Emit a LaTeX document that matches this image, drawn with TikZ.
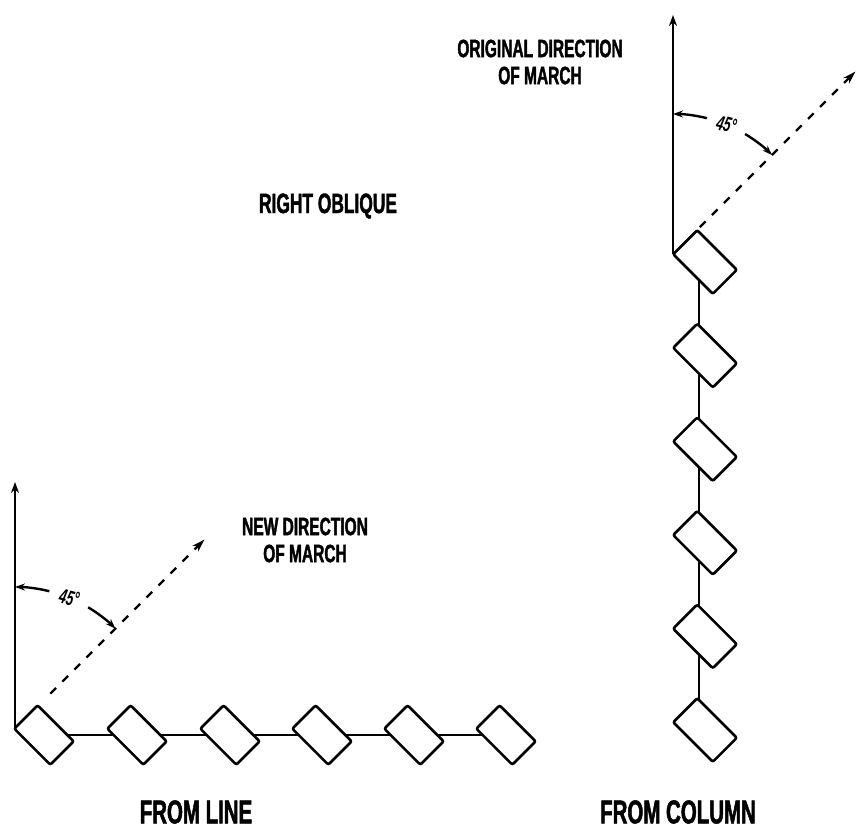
\documentclass[tikz,border=0pt]{standalone}
\usepackage{fontspec}
\setmainfont{Liberation Sans}[FakeStretch=0.62,BoldFeatures={FakeBold=1.5}]
\usetikzlibrary{arrows.meta,positioning,calc,backgrounds}

\begin{document}
\begin{tikzpicture}[x=1pt,y=-1pt,
  unit/.style={draw=black,fill=white,line width=2.6pt,rounded corners=2pt,
    rotate=-45,inner sep=0pt},
  lunit/.style={unit,minimum width=51pt,minimum height=33pt},
  cunit/.style={unit,minimum width=56pt,minimum height=34pt},
  link/.style={line width=2.2pt},
  axis/.style={line width=2.4pt,-{Stealth[length=11pt,width=8pt]}},
  march/.style={line width=2.3pt,dash pattern=on 8pt off 9pt,
    -{Stealth[length=13pt,width=8pt]}},
  angarr/.style={line width=2.4pt,-{Stealth[length=10pt,width=7pt]}},
  lbl/.style={font=\bfseries\fontsize{25}{27}\selectfont,align=center},
  ttl/.style={font=\bfseries\fontsize{28}{30}\selectfont},
  sub/.style={font=\bfseries\fontsize{33}{35}\selectfont},
  deg/.style={font=\bfseries\itshape\fontsize{21}{21}\selectfont,rotate=-15}
]
  \useasboundingbox (0,0) rectangle (859,831);

  % From line
  \coordinate (lbase) at (15,729);
  \coordinate (ltop) at (15,482);
  \foreach \i/\x in {1/44,2/137,3/230,4/322,5/414,6/506}
    \node[lunit] (l\i) at (\x,735) {};
  \begin{pgfonlayer}{background}
    \foreach \i/\j in {1/2,2/3,3/4,4/5,5/6}
      \draw[link] (l\i.center) -- (l\j.center);
  \end{pgfonlayer}
  \draw[axis] (lbase) -- (ltop);
  \draw[march] ($(lbase)+(-45:50)$) -- ($(lbase)+(-45:268)$);
  \draw[angarr] ($(lbase)+(-76:142)$) arc[start angle=-76,end angle=-90,radius=142];
  \draw[angarr] ($(lbase)+(-59:142)$) arc[start angle=-59,end angle=-45,radius=142];
  \node[deg] (ldeg) at ($(lbase)+(-67.5:142)$) {45\textdegree};
  \node[lbl] (lnew) at (305,540) {NEW DIRECTION\\OF MARCH};
  \node[sub] (lname) at (196,812) {FROM LINE};

  % From column
  \coordinate (cbase) at (673,254);
  \coordinate (ctop) at (673,15);
  \foreach \i/\y in {1/262,2/355.6,3/449.2,4/542.8,5/636.4,6/730}
    \node[cunit] (c\i) at (705,\y) {};
  \begin{pgfonlayer}{background}
    \foreach \i/\j in {1/2,2/3,3/4,4/5,5/6}
      \draw[link] ([xshift=-6pt]c\i.center) -- ([xshift=-6pt]c\j.center);
  \end{pgfonlayer}
  \draw[axis] (cbase) -- (ctop);
  \draw[march] ($(cbase)+(-45:38)$) -- ($(cbase)+(-45:258)$);
  \draw[angarr] ($(cbase)+(-76:140)$) arc[start angle=-76,end angle=-90,radius=140];
  \draw[angarr] ($(cbase)+(-59:140)$) arc[start angle=-59,end angle=-45,radius=140];
  \node[deg] (cdeg) at ($(cbase)+(-67.5:140)$) {45\textdegree};
  \node[lbl] (corig) at (540,62) {ORIGINAL DIRECTION\\OF MARCH};
  \node[sub] (cname) at (678,812) {FROM COLUMN};

  % Title
  \node[ttl] (title) at (328,206) {RIGHT OBLIQUE};
\end{tikzpicture}
\end{document}
